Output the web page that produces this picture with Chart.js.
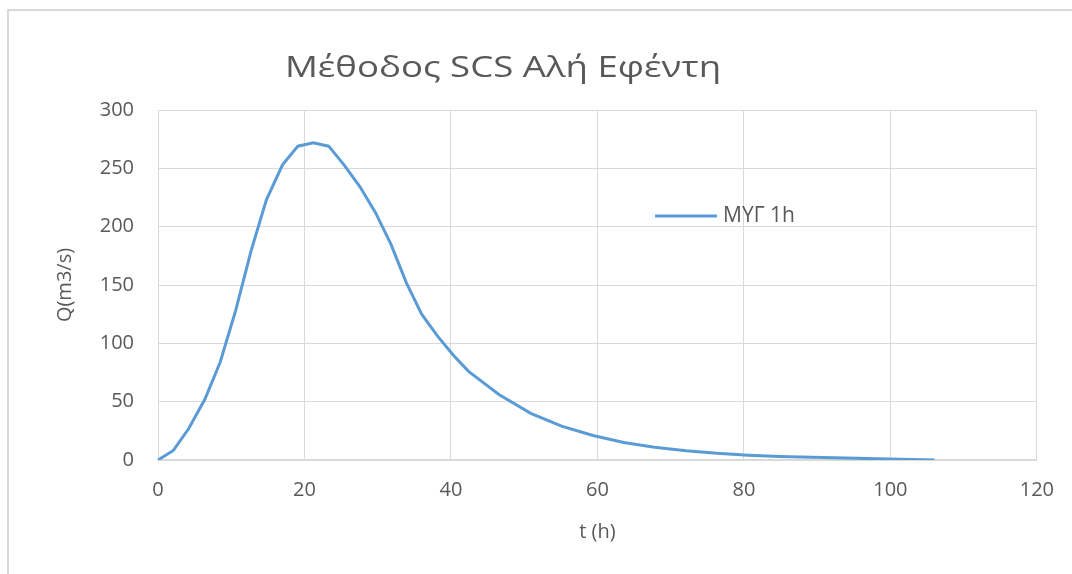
<!DOCTYPE html>
<html>
<head>
<meta charset="utf-8">
<title>Μέθοδος SCS Αλή Εφέντη</title>
<script src="https://cdn.jsdelivr.net/npm/chart.js@4.4.0/dist/chart.umd.min.js"></script>
<style>
  html, body { margin: 0; padding: 0; background: #fff; overflow: hidden; }
  #wrap { position: relative; width: 1072px; height: 574px; }
  #frame {
    position: absolute; left: 7px; top: 9px; width: 1080px; height: 580px;
    border-top: 2px solid #d9d9d9; border-left: 2px solid #d9d9d9;
    pointer-events: none;
  }
  canvas { position: absolute; left: 0; top: 0; }
</style>
</head>
<body>
<div id="wrap">
  <canvas id="hydro" width="1072" height="574"></canvas>
  <div id="frame"></div>
</div>
<script>
// χρόνοι (h) και παροχές (m3/s) όπως διαβάζονται από το διάγραμμα
const times = [0, 2.1, 4.2, 6.4, 8.5, 10.6, 12.7, 14.8, 17.0, 19.1, 21.2, 23.3, 25.4,
  27.6, 29.7, 31.8, 33.9, 36.0, 38.2, 40.3, 42.4, 46.6, 50.9, 55.1, 59.4, 63.6,
  67.8, 72.1, 76.3, 80.6, 84.8, 95.4, 106.0];
const flows = [0, 8.2, 27, 52, 84, 128, 179, 223, 253, 269, 272, 269, 253,
  234, 212, 185, 152, 125, 106, 90, 76, 56, 40, 29, 21, 15,
  11, 8, 5.7, 4.1, 3.0, 1.4, 0];
const seriesName = "ΜΥΓ 1h";
const chartTitle = "Μέθοδος SCS Αλή Εφέντη";
const xTitle = "t (h)";
const yTitle = "Q(m3/s)";

const FONT = "'Open Sans', 'Noto Sans', sans-serif";
const GRAY_TXT = "#595959";
const GRID = "#d9d9d9";
const LINE = "#5b9bd5";

// τίτλος (λίγο πιο πλατύς, όπως στο Excel)
const titlePlugin = {
  id: "titlePlugin",
  afterDraw(chart) {
    const c = chart.ctx;
    c.save();
    c.translate(503, 68);
    c.scale(1.22, 1);
    c.fillStyle = GRAY_TXT;
    c.font = "30px " + FONT;
    c.textAlign = "center";
    c.textBaseline = "middle";
    c.fillText(chartTitle, 0, 0);
    c.restore();
  }
};

// υπόμνημα μέσα στην περιοχή σχεδίασης
const legendInside = {
  id: "legendInside",
  afterDatasetsDraw(chart) {
    const c = chart.ctx;
    const ds = chart.data.datasets[0];
    const x0 = 655, y0 = 216;
    c.save();
    c.strokeStyle = ds.borderColor;
    c.lineWidth = 3;
    c.beginPath();
    c.moveTo(x0, y0);
    c.lineTo(x0 + 62, y0);
    c.stroke();
    c.fillStyle = GRAY_TXT;
    c.font = "21px " + FONT;
    c.textBaseline = "middle";
    c.fillText(ds.label, x0 + 68, y0);
    c.restore();
  }
};

const ctx = document.getElementById("hydro").getContext("2d");
new Chart(ctx, {
  type: "line",
  data: {
    datasets: [{
      label: seriesName,
      data: times.map((t, i) => ({ x: t, y: flows[i] })),
      borderColor: LINE,
      backgroundColor: LINE,
      borderWidth: 3,
      pointRadius: 0,
      tension: 0,
      fill: false
    }]
  },
  options: {
    responsive: false,
    animation: false,
    layout: { padding: { left: 0, right: 35, top: 110, bottom: 0 } },
    plugins: {
      legend: { display: false },
      tooltip: { enabled: false },
      title: { display: false }
    },
    scales: {
      x: {
        type: "linear",
        min: 0, max: 120,
        ticks: { stepSize: 20, color: GRAY_TXT, font: { family: FONT, size: 20 }, padding: 18 },
        grid: { color: GRID, lineWidth: 1, drawTicks: false },
        border: { color: GRID, width: 2 },
        title: {
          display: true, text: xTitle, color: GRAY_TXT,
          font: { family: FONT, size: 20 }, padding: { top: 0, bottom: 30 }
        },
        afterFit: (s) => { s.height = 114; }
      },
      y: {
        min: 0, max: 300,
        ticks: { stepSize: 50, color: GRAY_TXT, font: { family: FONT, size: 20 }, padding: 24 },
        grid: { color: GRID, lineWidth: 1, drawTicks: false },
        border: { color: GRID, width: 1 },
        title: {
          display: true, text: yTitle, color: GRAY_TXT,
          font: { family: FONT, size: 20 }, padding: { top: 53, bottom: 0 }
        },
        afterFit: (s) => { s.width = 158; }
      }
    }
  },
  plugins: [legendInside, titlePlugin]
});
</script>
</body>
</html>
